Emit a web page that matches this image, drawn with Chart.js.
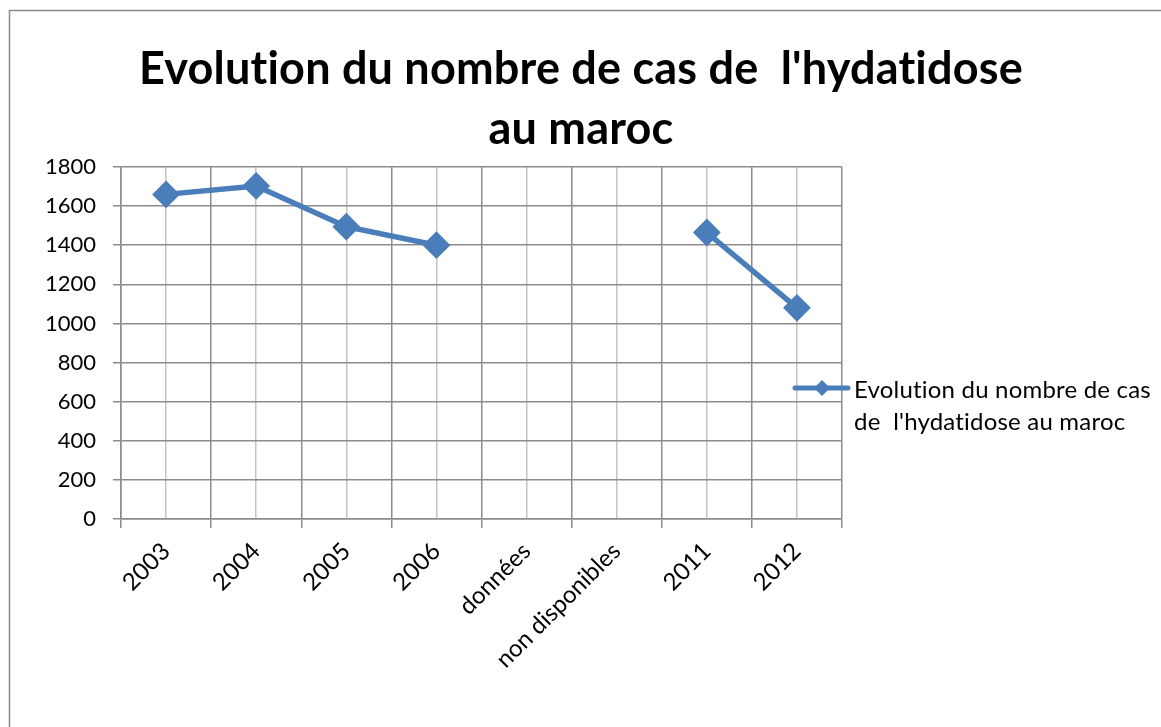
<!DOCTYPE html>
<html>
<head>
<meta charset="utf-8">
<script src="https://cdn.jsdelivr.net/npm/chart.js@4.4.1/dist/chart.umd.min.js"></script>
<style>
  html, body { margin: 0; padding: 0; background: #fff; }
  #wrap { width: 1161px; height: 727px; position: relative; }
</style>
</head>
<body>
<div id="wrap"><canvas id="chart" width="1161" height="727"></canvas></div>
<script>
// Chart data
const categories = ["2003", "2004", "2005", "2006", "données", "non disponibles", "2011", "2012"];
const cases = [1660, 1703, 1495, 1400, null, null, 1465, 1080];
const titleLines = ["Evolution du nombre de cas de  l'hydatidose", "au maroc"];
const legendLines = ["Evolution du nombre de cas", "de  l'hydatidose au maroc"];
const yTicks = { min: 0, max: 1800, step: 200 };

const FONT = "Lato, 'Open Sans', sans-serif";
const BLUE = "#4A7EBB";

// white background + frame around the whole chart (Excel chart area border)
const framePlugin = {
  id: "frame",
  beforeDraw(chart) {
    const ctx = chart.ctx;
    ctx.save();
    ctx.fillStyle = "#fff";
    ctx.fillRect(0, 0, chart.width, chart.height);
    ctx.strokeStyle = "#8a8a8a";
    ctx.lineWidth = 1.5;
    ctx.strokeRect(9.5, 10.5, chart.width + 20, chart.height + 20);
    ctx.restore();
  },
};

// title centred on the full width, not only on the plot
const bigTitle = {
  id: "bigTitle",
  afterDraw(chart) {
    const ctx = chart.ctx;
    ctx.save();
    ctx.fillStyle = "#000";
    ctx.font = "bold 45px " + FONT;
    ctx.letterSpacing = "0.2px"; // no "ti" ligature
    ctx.textAlign = "center";
    ctx.textBaseline = "alphabetic";
    ctx.fillText(titleLines[0], 581, 84);
    ctx.fillText(titleLines[1], 581, 144);
    ctx.restore();
  },
};

// legend on the right, text on two lines
const sideLegend = {
  id: "sideLegend",
  afterDraw(chart) {
    const ctx = chart.ctx;
    const x0 = 795, y0 = 388;
    ctx.save();
    ctx.strokeStyle = BLUE;
    ctx.lineWidth = 5;
    ctx.lineCap = "round";
    ctx.beginPath();
    ctx.moveTo(x0, y0);
    ctx.lineTo(x0 + 53, y0);
    ctx.stroke();
    ctx.fillStyle = BLUE;
    ctx.beginPath();
    const cx = x0 + 27, r = 8;
    ctx.moveTo(cx, y0 - r);
    ctx.lineTo(cx + r, y0);
    ctx.lineTo(cx, y0 + r);
    ctx.lineTo(cx - r, y0);
    ctx.closePath();
    ctx.fill();
    ctx.fillStyle = "#000";
    ctx.font = "24px " + FONT;
    ctx.letterSpacing = "0.2px";
    ctx.textBaseline = "middle";
    legendLines.forEach((t, i) => ctx.fillText(t, 854, y0 + 2 + i * 32));
    ctx.restore();
  },
};

new Chart(document.getElementById("chart"), {
  type: "line",
  data: {
    labels: categories,
    datasets: [
      {
        label: legendLines.join(" "),
        data: cases,
        borderColor: BLUE,
        backgroundColor: BLUE,
        borderWidth: 5.5,
        pointStyle: "rectRot",
        pointRadius: 10,
        pointHoverRadius: 10,
        spanGaps: false,
        xAxisID: "x",
      },
    ],
  },
  options: {
    responsive: false,
    animation: false,
    layout: { padding: { left: 10, right: 319, top: 167, bottom: 0 } },
    plugins: {
      legend: { display: false },
      tooltip: { enabled: false },
      title: { display: false },
    },
    scales: {
      x: {
        type: "category",
        offset: true,
        grid: { offset: true, color: "#8c8c8c", lineWidth: 1.5, tickLength: 9 },
        border: { color: "#8c8c8c", width: 1.5 },
        ticks: {
          color: "#000",
          font: { family: FONT, size: 24 },
          maxRotation: 45,
          minRotation: 45,
          autoSkip: false,
          padding: 9,
        },
        afterFit(scale) { scale.height = 208; },
      },
      x2: {
        type: "category",
        position: "bottom",
        labels: categories,
        offset: true,
        grid: { offset: false, color: "#c4c4c4", lineWidth: 1.5, drawTicks: false },
        border: { display: false },
        ticks: { display: false },
        afterFit(scale) { scale.height = 0; },
      },
      y: {
        min: yTicks.min,
        max: yTicks.max,
        ticks: {
          stepSize: yTicks.step,
          color: "#000",
          font: { family: FONT, size: 22 },
          padding: 17,
          callback: (v) => String(v),
        },
        grid: { color: "#8c8c8c", lineWidth: 1.5, tickLength: 8 },
        border: { color: "#8c8c8c", width: 1.5 },
        afterFit(scale) { scale.width = 111; },
      },
    },
  },
  plugins: [framePlugin, bigTitle, sideLegend],
});
</script>
</body>
</html>
